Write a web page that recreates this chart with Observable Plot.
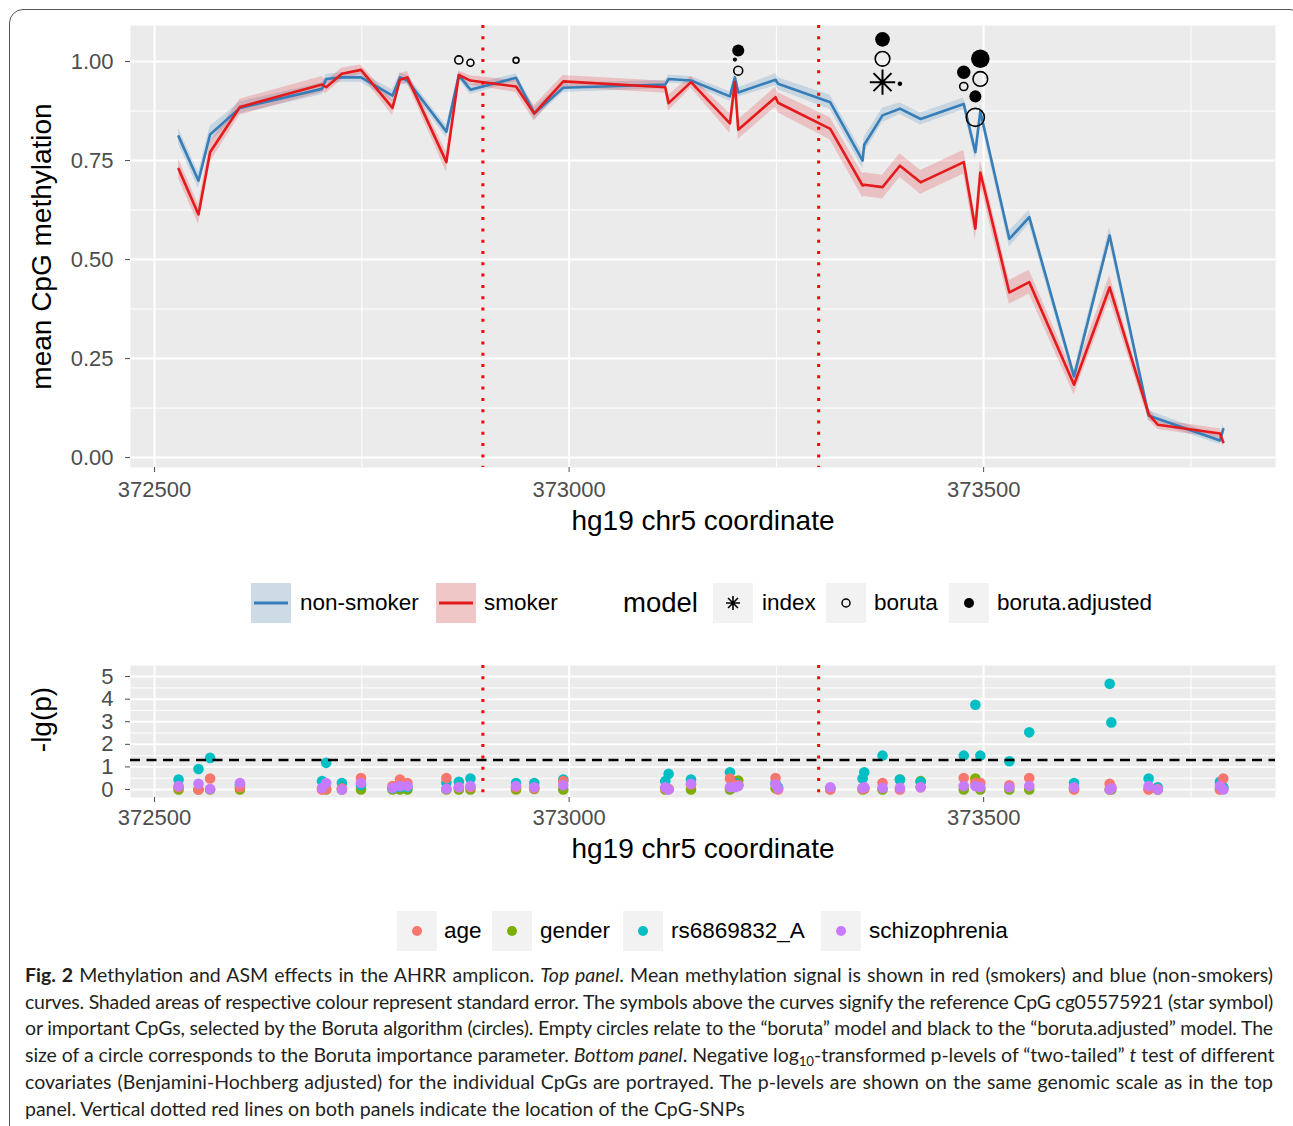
<!DOCTYPE html>
<html><head><meta charset="utf-8">
<script src="https://cdn.jsdelivr.net/npm/d3@7"></script>
<script src="https://cdn.jsdelivr.net/npm/@observablehq/plot@0.6"></script>
<style>
html,body{margin:0;padding:0;background:#fff;overflow:hidden;width:1293px;height:1126px;}
#page{position:relative;width:1293px;height:1126px;font-family:"Liberation Sans",Arial,sans-serif;}
#frame{position:absolute;left:9px;top:9px;width:1295px;height:1200px;border:1.5px solid #555;border-radius:14px;box-sizing:border-box;}
.abs{position:absolute;}
.key{position:absolute;width:40px;height:40px;background:#F2F2F2;}
.key svg{display:block;}
.lab{position:absolute;height:40px;line-height:40px;font-size:22.5px;color:#000;white-space:nowrap;}
#caption{position:absolute;left:25px;top:962px;font-family:Lato,"Open Sans",sans-serif;font-size:19.5px;color:#231f20;line-height:26.7px;}
#caption div{white-space:nowrap;}
#caption sub{font-size:0.68em;line-height:0;vertical-align:-0.3em;}
</style></head>
<body><div id="page"><div id="frame"></div>
<div id="top" class="abs" style="left:0;top:0"></div>
<div id="legend1" class="abs" style="left:0;top:583px;width:1293px;height:40px"></div>
<div id="bottom" class="abs" style="left:0;top:640px"></div>
<div id="legend2" class="abs" style="left:0;top:911px;width:1293px;height:40px"></div>
<div id="caption"></div>
</div>
<script>
// ---------------- DATA ----------------
const cpgPos = [372529,372553,372567,372603,372702,372707,372726,372749,372787,372796,372805,372852,372867,372881,372936,372958,372993,373116,373120,373147,373194,373200,373204,373249,373252,373315,373354,373356,373378,373399,373424,373476,373490,373496,373531,373555,373609,373652,373699,373710,373785,373789];
const nonSmoker = [0.811,0.699,0.816,0.883,0.931,0.956,0.960,0.960,0.914,0.960,0.952,0.823,0.965,0.929,0.959,0.869,0.934,0.942,0.956,0.952,0.912,0.960,0.922,0.954,0.944,0.897,0.750,0.790,0.864,0.881,0.855,0.893,0.771,0.874,0.552,0.607,0.205,0.561,0.106,0.098,0.043,0.072];
const smoker = [0.729,0.614,0.771,0.885,0.942,0.935,0.969,0.979,0.883,0.954,0.960,0.746,0.966,0.952,0.937,0.869,0.950,0.935,0.895,0.948,0.844,0.948,0.828,0.910,0.896,0.830,0.687,0.689,0.683,0.737,0.695,0.746,0.578,0.720,0.417,0.443,0.184,0.430,0.110,0.083,0.061,0.039];
const seNonSmoker = [0.02,0.02,0.02,0.015,0.015,0.012,0.012,0.012,0.015,0.012,0.012,0.015,0.01,0.012,0.01,0.015,0.012,0.01,0.01,0.01,0.012,0.012,0.012,0.015,0.015,0.018,0.02,0.02,0.018,0.015,0.015,0.015,0.02,0.018,0.02,0.018,0.015,0.02,0.012,0.012,0.01,0.015];
const seSmoker = [0.025,0.025,0.025,0.02,0.02,0.015,0.015,0.012,0.02,0.015,0.015,0.025,0.01,0.012,0.015,0.02,0.015,0.015,0.02,0.015,0.025,0.015,0.025,0.025,0.025,0.028,0.03,0.03,0.03,0.03,0.03,0.03,0.03,0.03,0.03,0.03,0.025,0.03,0.015,0.012,0.012,0.012];
const groups = ["non-smoker","smoker"];
const groupColors = ["#377EB8","#E41A1C"];

const snpPos = [372896, 373301];

const modelSite = [372867,372881,372936,373204,373200,373204,373378,373378,373378,373399,373496,373476,373496,373476,373490,373490];
const modelY = [1.004,0.997,1.003,1.028,1.005,0.977,1.056,1.007,0.948,0.944,1.007,0.973,0.956,0.937,0.912,0.859];
const modelName = ["boruta","boruta","boruta","boruta.adjusted","boruta.adjusted","boruta","boruta.adjusted","boruta","index","boruta.adjusted","boruta.adjusted","boruta.adjusted","boruta","boruta","boruta.adjusted","boruta"];
const modelImportance = [1.9,1.4,1.0,4.2,0.5,2.3,6.2,6.2,null,0.6,10,5.2,6.2,1.9,4.2,9.4];
const models = ["index","boruta","boruta.adjusted"];

const pPos = [372529,372553,372567,372603,372702,372707,372726,372749,372787,372796,372805,372852,372867,372881,372936,372958,372993,373116,373120,373147,373194,373200,373204,373249,373252,373315,373354,373356,373378,373399,373424,373476,373490,373496,373531,373555,373609,373652,373654,373699,373710,373785,373789];
const pAge = [0.1,0,0.49,0.1,0,0.02,0.05,0.51,0.15,0.44,0.29,0.51,0.1,0.1,0.1,0.05,0.37,0.05,0.02,0.22,0.49,0.2,0.2,0.51,0,0,0.02,0.05,0.29,0,0.1,0.51,0.3,0.29,0.19,0.51,0,0.25,0.1,0,0.02,0,0.49];
const pGender = [0,0,0,0,0.02,0,0,0,0,0,0,0,0,0,0,0.02,0,0,0.02,0,0,0.35,0.4,0.05,0.05,0.02,0,0.02,0,0.44,0.37,0,0.49,0,0,0,0.02,0,0,0.02,0,0.02,0.02];
const pRs = [0.44,0.91,1.40,0.2,0.37,1.18,0.29,0.2,0.05,0.1,0.1,0.3,0.34,0.49,0.29,0.29,0.44,0.37,0.69,0.44,0.76,0.3,0.2,0.29,0.1,0.05,0.49,0.76,1.50,0.44,0.34,1.50,3.75,1.50,1.25,2.53,0.29,4.68,2.97,0.49,0.1,0.34,0.1];
const pSchizo = [0.15,0.25,0.02,0.29,0.07,0.29,0,0.29,0.07,0.15,0.15,0.03,0.1,0.15,0.15,0.1,0.19,0.1,0,0.25,0.1,0.1,0.15,0.22,0.05,0.1,0.07,0.1,0.07,0.07,0.1,0.15,0.15,0.1,0.1,0.15,0.1,0,0.05,0.15,0,0.15,0];
const covariates = ["age","gender","rs6869832_A","schizophrenia"];
const covColors = ["#F8766D","#7CAE00","#00BFC4","#C77CFF"];
const pThreshold = -Math.log10(0.05);

const xTicks = [372500,373000,373500];
const xMinor = [372750,373250,373750];
const yTicksTop = [0,0.25,0.5,0.75,1];
const yMinorTop = [0.125,0.375,0.625,0.875];
const yTicksBot = [0,1,2,3,4,5];
const yMinorBot = [0.5,1.5,2.5,3.5,4.5];

// ---------------- TOP PANEL ----------------
const FONT = '"Liberation Sans", Arial, sans-serif';
const series = [];
groups.forEach((g, gi) => {
  const vals = gi === 0 ? nonSmoker : smoker;
  const se = gi === 0 ? seNonSmoker : seSmoker;
  cpgPos.forEach((x, i) => series.push({x, v: vals[i], se: se[i], g}));
});
const markers = modelSite.map((x, i) => ({x, y: modelY[i], m: modelName[i], imp: modelImportance[i]}));

const asterisk8 = {
  draw(ctx, size) {
    const r = Math.sqrt(size / Math.PI), d = r * Math.SQRT1_2;
    ctx.moveTo(-r, 0); ctx.lineTo(r, 0);
    ctx.moveTo(0, -r); ctx.lineTo(0, r);
    ctx.moveTo(-d, -d); ctx.lineTo(d, d);
    ctx.moveTo(-d, d); ctx.lineTo(d, -d);
  }
};

function bgMarks(yMajor, yMinor) {
  return [
    Plot.frame({fill: "#EBEBEB", stroke: null}),
    Plot.gridY(yMinor, {stroke: "#fff", strokeOpacity: 1, strokeWidth: 1}),
    Plot.gridX(xMinor, {stroke: "#fff", strokeOpacity: 1, strokeWidth: 1}),
    Plot.gridY(yMajor, {stroke: "#fff", strokeOpacity: 1, strokeWidth: 2}),
    Plot.gridX(xTicks, {stroke: "#fff", strokeOpacity: 1, strokeWidth: 2})
  ];
}

const topPlot = Plot.plot({
  width: 1293, height: 547,
  marginLeft: 130, marginRight: 18, marginTop: 25, marginBottom: 80,
  x: {domain: [372471, 373852]},
  y: {domain: [-0.025, 1.091]},
  r: {type: "sqrt", domain: [0, 10], range: [0, 9.3]},
  color: {domain: groups, range: groupColors},
  style: {fontFamily: FONT, background: "transparent", overflow: "visible"},
  marks: [
    ...bgMarks(yTicksTop, yMinorTop),
    Plot.areaY(series, {x: "x", y1: d => d.v - d.se, y2: d => d.v + d.se, z: "g", fill: "g", fillOpacity: 0.2}),
    Plot.line(series, {x: "x", y: "v", z: "g", stroke: "g", strokeWidth: 2.6}),
    Plot.ruleX(snpPos, {stroke: "#FF0000", strokeWidth: 3, strokeDasharray: "3,8.3"}),
    Plot.dot(markers.filter(d => d.m === "boruta"), {x: "x", y: "y", r: "imp", fill: "none", stroke: "black", strokeWidth: 1.6}),
    Plot.dot(markers.filter(d => d.m === "boruta.adjusted"), {x: "x", y: "y", r: "imp", fill: "black", stroke: "none"}),
    Plot.dot(markers.filter(d => d.m === "index"), {x: "x", y: "y", r: 12.7, symbol: asterisk8, fill: "none", stroke: "black", strokeWidth: 2}),
    Plot.axisX({ticks: xTicks, tickFormat: d3.format("d"), tickSize: 5, tickPadding: 9, fontSize: 22, color: "#4D4D4D", label: null}),
    Plot.axisY({ticks: yTicksTop, tickFormat: d3.format(".2f"), tickSize: 5, tickPadding: 12, fontSize: 22, color: "#4D4D4D", label: null}),
    Plot.text(["hg19 chr5 coordinate"], {text: d => d, frameAnchor: "bottom", dy: 54, fontSize: 28, fill: "black", textAnchor: "middle", lineAnchor: "middle"}),
    Plot.text(["mean CpG methylation"], {text: d => d, frameAnchor: "left", dx: -88, rotate: -90, fontSize: 28, fill: "black", textAnchor: "middle", lineAnchor: "middle"})
  ]
});
document.getElementById("top").append(topPlot);

// ---------------- BOTTOM PANEL ----------------
const pLong = [];
const covArrays = {"age": pAge, "gender": pGender, "rs6869832_A": pRs, "schizophrenia": pSchizo};
["gender","rs6869832_A","age","schizophrenia"].forEach(c => {
  pPos.forEach((x, i) => pLong.push({x, v: covArrays[c][i], c}));
});

const botPlot = Plot.plot({
  width: 1293, height: 237,
  marginLeft: 130, marginRight: 18, marginTop: 25, marginBottom: 80,
  x: {domain: [372471, 373852]},
  y: {domain: [-0.354, 5.49]},
  color: {domain: covariates, range: covColors},
  style: {fontFamily: FONT, background: "transparent", overflow: "visible"},
  marks: [
    ...bgMarks(yTicksBot, yMinorBot),
    Plot.dot(pLong, {x: "x", y: "v", fill: "c", r: 5.3, stroke: "none"}),
    Plot.ruleX(snpPos, {stroke: "#FF0000", strokeWidth: 3, strokeDasharray: "3,8.3"}),
    Plot.ruleY([pThreshold], {stroke: "black", strokeWidth: 2.5, strokeDasharray: "10,6.5"}),
    Plot.axisX({ticks: xTicks, tickFormat: d3.format("d"), tickSize: 5, tickPadding: 7, fontSize: 22, color: "#4D4D4D", label: null}),
    Plot.axisY({ticks: yTicksBot, tickFormat: d3.format("d"), tickSize: 5, tickPadding: 12, fontSize: 22, color: "#4D4D4D", label: null}),
    Plot.text(["hg19 chr5 coordinate"], {text: d => d, frameAnchor: "bottom", dy: 52, fontSize: 28, fill: "black", textAnchor: "middle", lineAnchor: "middle"}),
    Plot.text(["-lg(p)"], {text: d => d, frameAnchor: "left", dx: -88, dy: -12, rotate: -90, fontSize: 28, fill: "black", textAnchor: "middle", lineAnchor: "middle"})
  ]
});
document.getElementById("bottom").append(botPlot);

// ---------------- LEGENDS ----------------
function addKey(parent, left, svgInner, bg) {
  const k = document.createElement("div");
  k.className = "key"; k.style.left = left + "px";
  if (bg) k.style.background = bg;
  k.innerHTML = `<svg width="40" height="40">${svgInner}</svg>`;
  parent.append(k);
}
function addLab(parent, left, text, size) {
  const l = document.createElement("div");
  l.className = "lab"; l.style.left = left + "px";
  if (size) l.style.fontSize = size + "px";
  l.textContent = text;
  parent.append(l);
}
function blendBg(hex, a) {
  const c = d3.rgb(hex), b = 242;
  return d3.rgb(c.r * a + b * (1 - a), c.g * a + b * (1 - a), c.b * a + b * (1 - a)).formatHex();
}
const L1 = document.getElementById("legend1");
const l1KeyX = [251, 436], l1LabX = [300, 484];
groups.forEach((g, i) => {
  addKey(L1, l1KeyX[i], `<line x1="3" x2="37" y1="20" y2="20" stroke="${groupColors[i]}" stroke-width="3"/>`, blendBg(groupColors[i], 0.2));
  addLab(L1, l1LabX[i], g);
});
addLab(L1, 623, "model", 27.5);
const l2KeyX = [713, 826, 949], l2LabX = [762, 874, 997];
const star = (() => { const r = 7, d = r * Math.SQRT1_2;
  return `<path d="M${20-r},20H${20+r}M20,${20-r}V${20+r}M${20-d},${20-d}L${20+d},${20+d}M${20-d},${20+d}L${20+d},${20-d}" stroke="black" stroke-width="1.6" fill="none"/>`; })();
const modelSyms = [star,
  `<circle cx="20" cy="20" r="4" fill="none" stroke="black" stroke-width="1.5"/>`,
  `<circle cx="20" cy="20" r="5" fill="black"/>`];
models.forEach((m, i) => { addKey(L1, l2KeyX[i], modelSyms[i]); addLab(L1, l2LabX[i], m); });

const L2 = document.getElementById("legend2");
const l3KeyX = [397, 492, 623, 821], l3LabX = [444, 540, 671, 869];
covariates.forEach((c, i) => {
  addKey(L2, l3KeyX[i], `<circle cx="20" cy="20" r="5" fill="${covColors[i]}"/>`);
  addLab(L2, l3LabX[i], c);
});

// ---------------- CAPTION ----------------
const captionLines = [
  '<b>Fig. 2</b> Methylation and ASM effects in the AHRR amplicon. <i>Top panel</i>. Mean methylation signal is shown in red (smokers) and blue (non-smokers)',
  'curves. Shaded areas of respective colour represent standard error. The symbols above the curves signify the reference CpG cg05575921 (star symbol)',
  'or important CpGs, selected by the Boruta algorithm (circles). Empty circles relate to the “boruta” model and black to the “boruta.adjusted” model. The',
  'size of a circle corresponds to the Boruta importance parameter. <i>Bottom panel</i>. Negative log<sub>10</sub>-transformed p-levels of “two-tailed” <i>t</i> test of different',
  'covariates (Benjamini-Hochberg adjusted) for the individual CpGs are portrayed. The p-levels are shown on the same genomic scale as in the top',
  'panel. Vertical dotted red lines on both panels indicate the location of the CpG-SNPs'
];
const cap = document.getElementById("caption");
const targetW = 1248;
captionLines.forEach((html, i) => {
  const div = document.createElement("div");
  const span = document.createElement("span");
  span.innerHTML = html;
  div.append(span);
  cap.append(div);
  const w = span.getBoundingClientRect().width;
  const txt = span.textContent;
  const nSp = (txt.match(/ /g) || []).length;
  if (w > targetW) {
    span.style.letterSpacing = ((targetW - w) / txt.length) + "px";
    const w2 = span.getBoundingClientRect().width;
    if (i < 5 && w2 < targetW) span.style.wordSpacing = ((targetW - w2) / nSp) + "px";
  } else if (i < 5) {
    span.style.wordSpacing = ((targetW - w) / nSp) + "px";
  }
});
</script>
</body></html>
